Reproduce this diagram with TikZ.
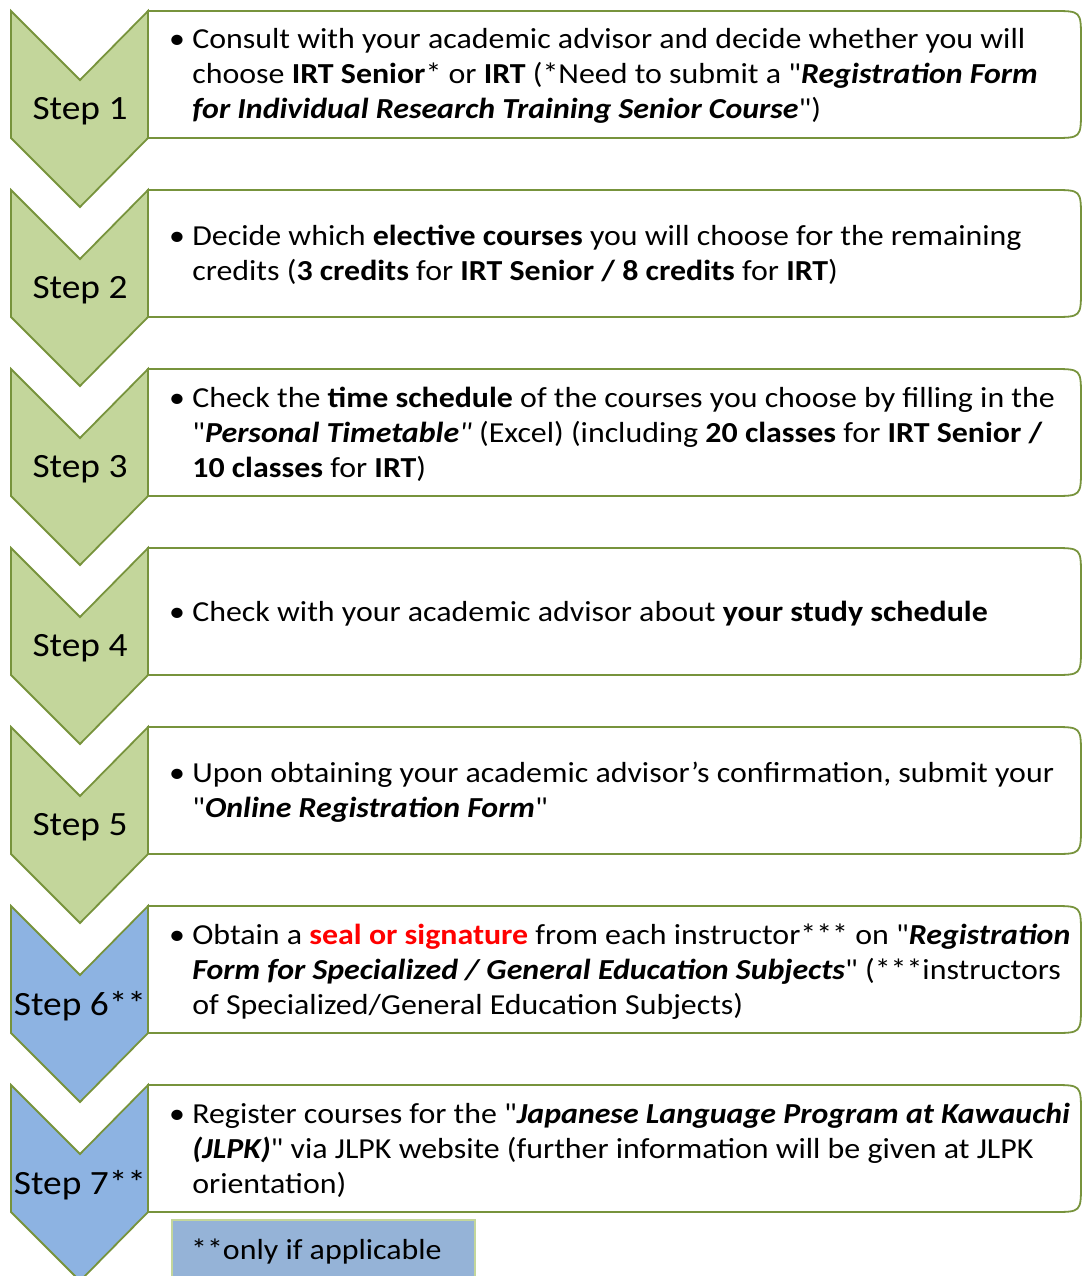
\documentclass[tikz,border=0pt]{standalone}
\usepackage{fontspec}
\setmainfont{Carlito}[Ligatures=TeXOff, FakeStretch=1.1]
\definecolor{chevgreen}{HTML}{C3D69B}
\definecolor{chevblue}{HTML}{8DB3E2}
\definecolor{olive}{HTML}{77933C}
\definecolor{notefill}{HTML}{95B3D7}
\definecolor{brightred}{HTML}{FF0000}
\newcommand\chevshape[2]{%
  \draw[chevline, fill=#2] (11,#1+11) -- (80,#1+80) -- (148,#1+11) -- (148,#1+138) -- (80,#1+207) -- (11,#1+138) -- cycle;}
\newcommand\stepbox[1]{%
  \draw[boxline] (148,#1+11) -- (1053,#1+11) .. controls (1081,#1+11) .. (1081,#1+39) -- (1081,#1+110) .. controls (1081,#1+138) .. (1053,#1+138) -- (148,#1+138) -- cycle;}
\newcommand\bi[1]{\textbf{\textit{#1}}}
\begin{document}
\begin{tikzpicture}[x=1pt,y=-1pt,
  chevline/.style={draw=olive, line width=1.8pt, line join=miter},
  boxline/.style={draw=olive, line width=1.8pt, fill=white},
  steplabel/.style={font=\fontsize{34}{40}\selectfont, inner sep=0pt, anchor=center},
  bodytext/.style={font=\fontsize{29}{35}\selectfont, inner sep=0pt, anchor=west, align=left}]
\useasboundingbox (0,0) rectangle (1082,1276);
\clip (0,0) rectangle (1082,1276);
% boxes
\foreach \k in {0,...,6} { \stepbox{179*\k} }
% chevrons
\chevshape{0}{chevgreen}
\chevshape{179}{chevgreen}
\chevshape{358}{chevgreen}
\chevshape{537}{chevgreen}
\chevshape{716}{chevgreen}
\chevshape{895}{chevblue}
\chevshape{1074}{chevblue}
% step labels
\node[steplabel] (s1) at (80,111) {Step 1};
\node[steplabel] (s2) at (80,290) {Step 2};
\node[steplabel] (s3) at (80,469) {Step 3};
\node[steplabel] (s4) at (80,648) {Step 4};
\node[steplabel] (s5) at (80,827) {Step 5};
\node[steplabel] (s6) at (80,1006) {Step 6**};
\node[steplabel] (s7) at (80,1185) {Step 7**};
% texts
\node[bodytext] (t1) at (169,77) {\textbullet\hspace{0.25em}\begin{tabular}[t]{@{}l@{}}Consult with your academic advisor and decide whether you will\\
choose \textbf{IRT Senior}* or \textbf{IRT} (*Need to submit a "\bi{Registration Form}\\
\bi{for Individual Research Training Senior Course}")\end{tabular}};
\node[bodytext] (t2) at (169,256) {\textbullet\hspace{0.25em}\begin{tabular}[t]{@{}l@{}}Decide which \textbf{elective courses} you will choose for the remaining\\
credits (\textbf{3 credits} for \textbf{IRT Senior / 8 credits} for \textbf{IRT})\end{tabular}};
\node[bodytext] (t3) at (169,435) {\textbullet\hspace{0.25em}\begin{tabular}[t]{@{}l@{}}Check the \textbf{time schedule} of the courses you choose by filling in the\\
"\bi{Personal Timetable}\textit{"} (Excel) (including \textbf{20 classes} for \textbf{IRT Senior /}\\
\textbf{10 classes} for \textbf{IRT})\end{tabular}};
\node[bodytext] (t4) at (169,614) {\textbullet\hspace{0.25em}\begin{tabular}[t]{@{}l@{}}Check with your academic advisor about \textbf{your study schedule}\end{tabular}};
\node[bodytext] (t5) at (169,793) {\textbullet\hspace{0.25em}\begin{tabular}[t]{@{}l@{}}Upon obtaining your academic advisor’s confirmation, submit your\\
"\bi{Online Registration Form}"\end{tabular}};
\node[bodytext] (t6) at (169,972) {\textbullet\hspace{0.25em}\begin{tabular}[t]{@{}l@{}}Obtain a \textcolor{brightred}{\textbf{seal or signature}} from each instructor*** on "\bi{Registration}\\
\bi{Form for Specialized / General Education Subjects}" (***instructors\\
of Specialized/General Education Subjects)\end{tabular}};
\node[bodytext] (t7) at (169,1151) {\textbullet\hspace{0.25em}\begin{tabular}[t]{@{}l@{}}Register courses for the "\bi{Japanese Language Program at Kawauchi}\\
\bi{(JLPK)}" via JLPK website (further information will be given at JLPK\\
orientation)\end{tabular}};
% footnote
\node[draw=chevgreen, line width=1.8pt, fill=notefill, anchor=north west, minimum width=303pt, minimum height=70pt, inner sep=0pt] (note) at (171,1219) {};
\node[bodytext] (notetext) at (191,1252) {**only if applicable};
\end{tikzpicture}
\end{document}
